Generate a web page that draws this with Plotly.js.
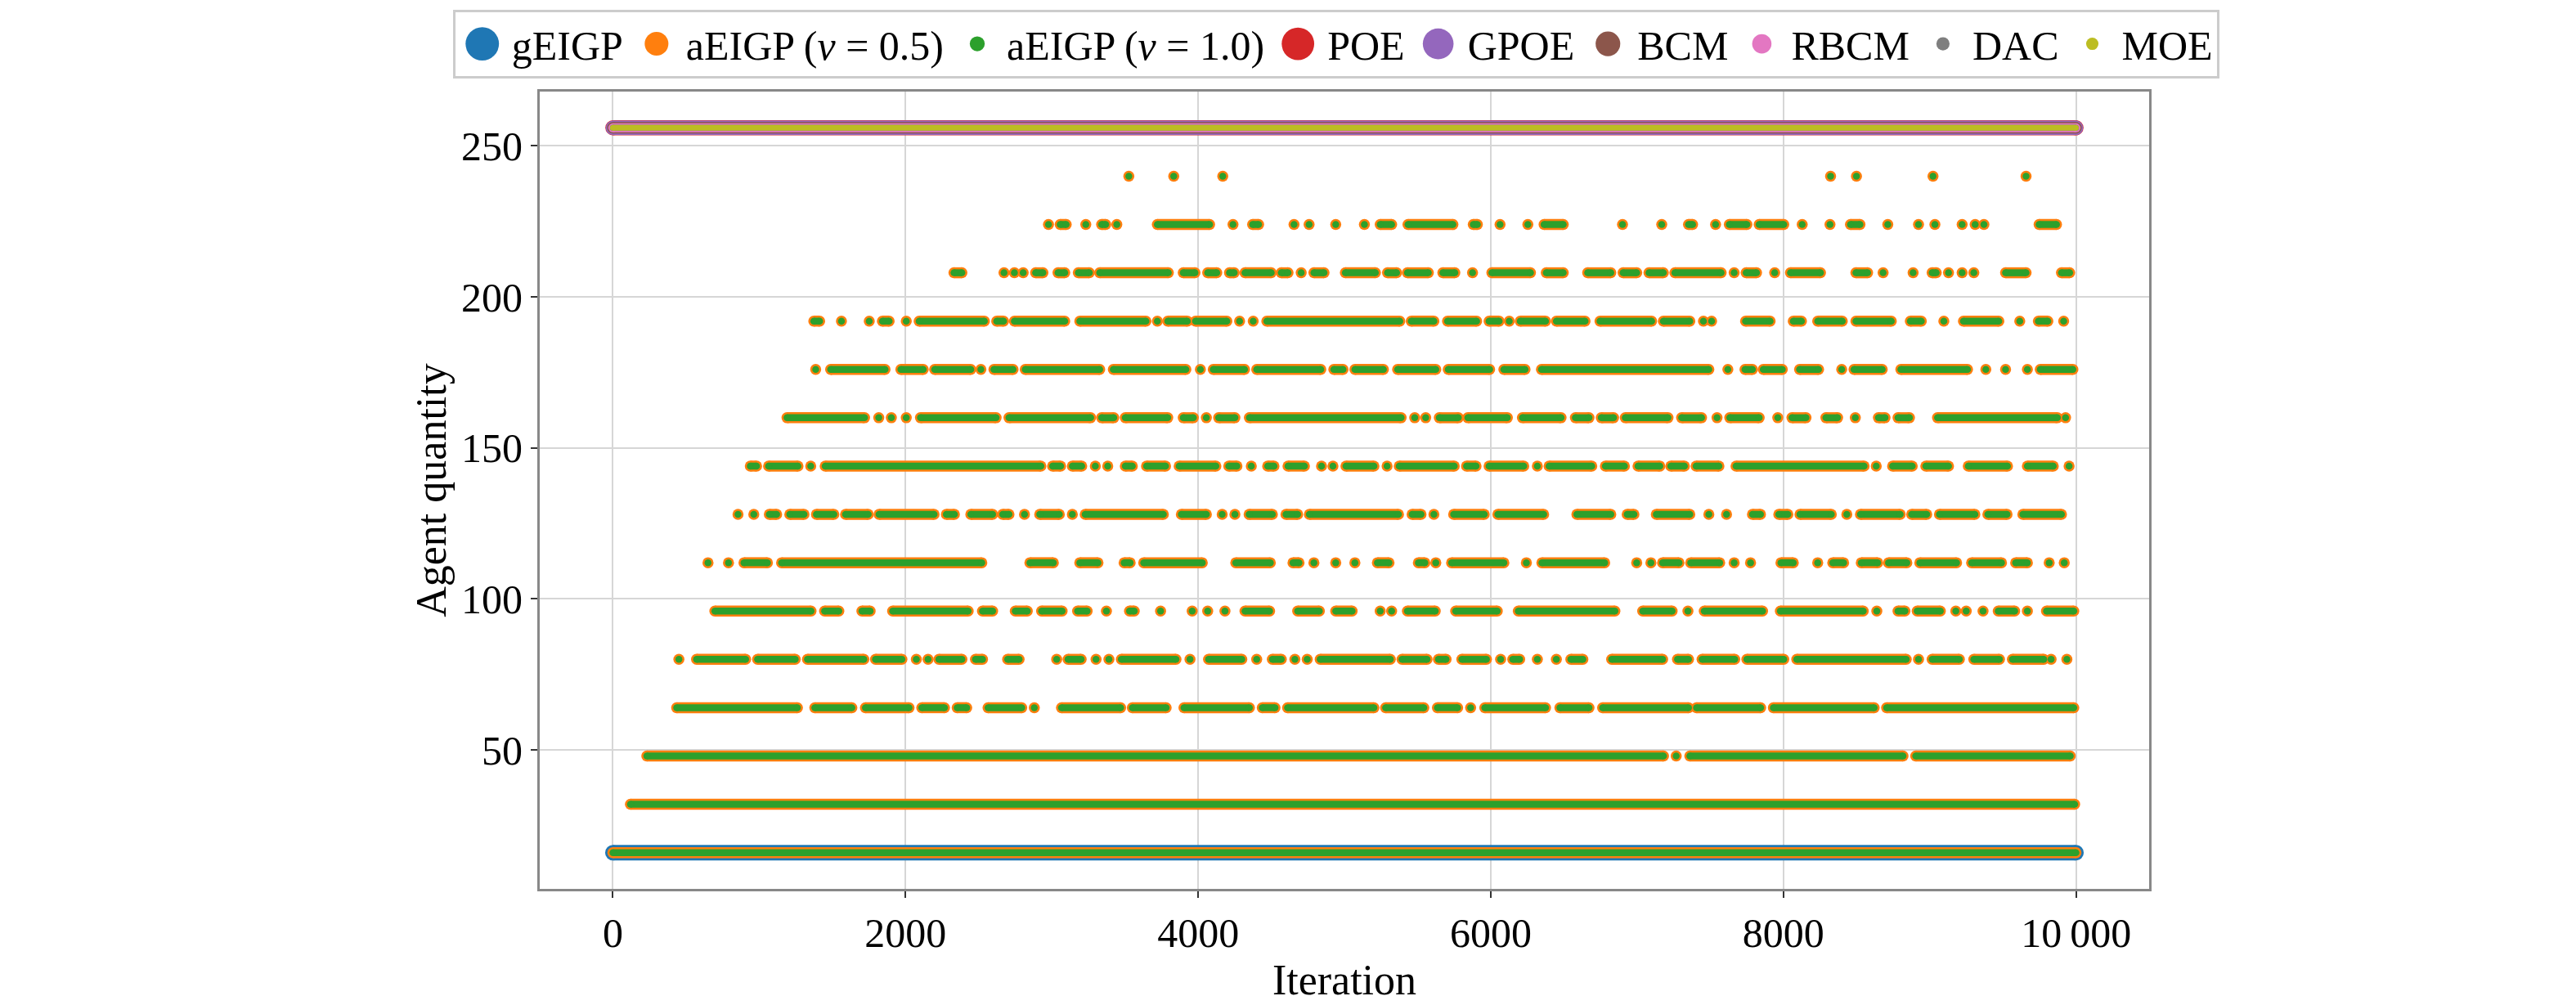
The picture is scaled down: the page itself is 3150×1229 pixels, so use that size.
<!DOCTYPE html>
<html>
<head>
<meta charset="utf-8">
<script src="https://cdn.plot.ly/plotly-3.0.1.min.js"></script>
<style>
  html, body { margin: 0; padding: 0; background: #fff; }
  #chart { width: 3150px; height: 1229px; }
</style>
</head>
<body>
<div id="chart"></div>
<script>
// Iteration ranges [first, last] where aEIGP sits at each agent-quantity level.
// a single dot is [i, i].
const lvl16 = [[0, 9999]];
const lvl32 = [[120, 9990]];
const lvl48 = [[232, 7180], [7267, 7267], [7360, 8817], [8904, 9960]];
const lvl64 = [[436, 1261], [1380, 1633], [1726, 2024], [2111, 2266], [2353, 2418], [2564, 2794],
  [2880, 2880], [3066, 3470], [3550, 3781], [3903, 4350], [4438, 4525], [4611, 5201], [5281, 5542],
  [5635, 5773], [5862, 5862], [5959, 6374], [6472, 6671], [6764, 7351], [7406, 7844], [7931, 8620],
  [8705, 9984]];
const lvl80 = [[451, 451], [572, 907], [989, 1246], [1330, 1715], [1795, 1975], [2074, 2074],
  [2154, 2154], [2228, 2385], [2478, 2526], [2698, 2776], [3033, 3033], [3111, 3200], [3302, 3302],
  [3390, 3390], [3475, 3848], [3944, 3944], [4071, 4298], [4400, 4400], [4507, 4568], [4661, 4661],
  [4745, 4745], [4834, 5313], [5393, 5564], [5642, 5694], [5802, 5970], [6067, 6067], [6150, 6197],
  [6318, 6318], [6448, 6448], [6547, 6629], [6826, 7174], [7276, 7351], [7444, 7667], [7750, 8002],
  [8091, 8839], [8923, 8923], [9016, 9202], [9301, 9476], [9565, 9779], [9829, 9829], [9937, 9937]];
const lvl96 = [[697, 1354], [1447, 1544], [1702, 1758], [1912, 2428], [2526, 2595], [2750, 2832],
  [2930, 3070], [3176, 3241], [3373, 3373], [3531, 3563], [3743, 3743], [3959, 3959], [4065, 4065],
  [4183, 4183], [4320, 4488], [4680, 4828], [4940, 5052], [5244, 5244], [5322, 5322], [5430, 5620],
  [5760, 6044], [6188, 6848], [7038, 7239], [7347, 7347], [7459, 7857], [7979, 8545], [8638, 8638],
  [8783, 8830], [8914, 9072], [9178, 9178], [9249, 9249], [9364, 9364], [9468, 9580], [9667, 9667],
  [9798, 9984]];
const lvl112 = [[650, 650], [790, 790], [896, 1056], [1153, 2521], [2850, 3010], [3191, 3315],
  [3494, 3535], [3628, 4028], [4257, 4493], [4648, 4689], [4791, 4791], [4940, 4940], [5071, 5071],
  [5225, 5304], [5505, 5549], [5624, 5624], [5732, 6089], [6243, 6243], [6349, 6778], [6997, 6997],
  [7094, 7094], [7174, 7286], [7366, 7564], [7663, 7663], [7775, 7775], [7983, 8067], [8234, 8234],
  [8337, 8411], [8532, 8644], [8718, 8843], [8932, 9183], [9286, 9490], [9587, 9667], [9816, 9816],
  [9919, 9919]];
const lvl128 = [[855, 855], [963, 963], [1069, 1119], [1209, 1306], [1391, 1510], [1590, 1745],
  [1819, 2195], [2279, 2334], [2446, 2595], [2664, 2707], [2813, 2813], [2917, 3051], [3140, 3140],
  [3228, 3762], [3885, 4056], [4164, 4164], [4251, 4251], [4348, 4507], [4600, 4680], [4760, 5369],
  [5462, 5523], [5611, 5611], [5746, 5955], [6048, 6361], [6588, 6820], [6932, 6978], [7131, 7360],
  [7490, 7490], [7611, 7611], [7788, 7843], [7968, 8030], [8113, 8327], [8433, 8433], [8526, 8798],
  [8876, 8979], [9066, 9308], [9397, 9528], [9636, 9900]];
const lvl144 = [[939, 982], [1064, 1265], [1352, 1352], [1451, 2925], [3005, 3060], [3140, 3204],
  [3297, 3297], [3382, 3382], [3502, 3550], [3647, 3777], [3870, 4121], [4209, 4265], [4363, 4363],
  [4475, 4518], [4614, 4726], [4843, 4843], [4921, 4921], [5010, 5201], [5291, 5291], [5374, 5750],
  [5834, 5899], [5988, 6225], [6318, 6318], [6398, 6690], [6783, 6913], [7006, 7155], [7230, 7323],
  [7403, 7559], [7676, 8551], [8634, 8634], [8746, 8880], [8973, 9128], [9263, 9531], [9667, 9844],
  [9952, 9952]];
const lvl160 = [[1190, 1720], [1817, 1817], [1903, 1903], [2005, 2005], [2102, 2619], [2707, 3265],
  [3340, 3423], [3502, 3792], [3898, 3967], [4056, 4056], [4140, 4251], [4350, 5387], [5480, 5480],
  [5555, 5555], [5648, 5778], [5843, 6113], [6216, 6480], [6578, 6671], [6755, 6839], [6919, 7211],
  [7304, 7440], [7546, 7546], [7633, 7834], [7961, 7961], [8058, 8154], [8290, 8370], [8491, 8491],
  [8649, 8694], [8783, 8861], [9053, 9872], [9928, 9928]];
const lvl176 = [[1386, 1386], [1488, 1860], [1968, 2121], [2199, 2446], [2515, 2515], [2604, 2735],
  [2818, 3327], [3420, 3916], [4015, 4015], [4103, 4317], [4400, 4838], [4927, 4990], [5071, 5266],
  [5363, 5624], [5709, 5992], [6089, 6234], [6346, 7490], [7620, 7620], [7737, 7788], [7862, 7992],
  [8110, 8240], [8398, 8398], [8482, 8675], [8802, 9258], [9383, 9383], [9518, 9518], [9667, 9667],
  [9755, 9978]];
const lvl192 = [[1373, 1413], [1562, 1562], [1752, 1752], [1842, 1888], [2005, 2005], [2093, 2539],
  [2623, 2670], [2744, 3088], [3191, 3643], [3721, 3721], [3792, 3926], [3982, 4196], [4283, 4283],
  [4376, 4376], [4469, 5378], [5456, 5611], [5704, 5903], [5988, 6057], [6126, 6126], [6201, 6374],
  [6448, 6644], [6746, 7099], [7179, 7360], [7453, 7453], [7509, 7509], [7741, 7909], [8067, 8123],
  [8234, 8402], [8495, 8737], [8867, 8942], [9096, 9096], [9230, 9472], [9615, 9615], [9742, 9807],
  [9915, 9915]];
const lvl208 = [[2331, 2385], [2673, 2673], [2744, 2744], [2804, 2804], [2889, 2939], [3042, 3088],
  [3181, 3256], [3327, 3796], [3898, 3978], [4065, 4127], [4214, 4246], [4320, 4499], [4568, 4614],
  [4704, 4704], [4791, 4860], [5006, 5211], [5294, 5356], [5430, 5573], [5672, 5754], [5875, 5875],
  [6007, 6271], [6379, 6495], [6662, 6820], [6904, 6997], [7081, 7179], [7258, 7574], [7663, 7663],
  [7745, 7816], [7940, 7940], [8048, 8253], [8495, 8575], [8681, 8681], [8886, 8886], [9016, 9044],
  [9128, 9128], [9221, 9221], [9301, 9301], [9518, 9658], [9900, 9956]];
const lvl224 = [[2977, 2977], [3057, 3098], [3232, 3232], [3340, 3368], [3444, 3444], [3721, 4078],
  [4238, 4238], [4372, 4413], [4655, 4655], [4758, 4758], [4940, 4940], [5136, 5136], [5244, 5322],
  [5434, 5741], [5880, 5908], [6063, 6063], [6253, 6253], [6364, 6495], [6900, 6900], [7168, 7168],
  [7351, 7379], [7536, 7536], [7630, 7750], [7834, 8002], [8128, 8128], [8318, 8318], [8458, 8523],
  [8713, 8713], [8923, 8923], [9035, 9035], [9221, 9221], [9310, 9310], [9370, 9370], [9747, 9866]];
const lvl240 = [[3526, 3526], [3833, 3833], [4168, 4168], [8322, 8322], [8499, 8499], [9022, 9022],
  [9658, 9658]];

const aeigpLevels = [16, 32, 48, 64, 80, 96, 112, 128, 144, 160, 176, 192, 208, 224, 240];
const aeigpRuns = [lvl16, lvl32, lvl48, lvl64, lvl80, lvl96, lvl112, lvl128, lvl144, lvl160,
  lvl176, lvl192, lvl208, lvl224, lvl240];

// gEIGP stays at 16 agents, the six baselines at 256, for the whole run.
const geigpLevel = 16;
const baselineLevel = 256;
const fullRun = [[0, 9999]];

const baselineNames = ["POE", "GPOE", "BCM", "RBCM", "DAC", "MOE"];
const baselineColors = ["#d62728", "#9467bd", "#8c564b", "#e377c2", "#7f7f7f", "#bcbd22"];
const baselineSizes = [18.5, 17.5, 14, 11, 7.5, 7];

const xTickVals = [0, 2000, 4000, 6000, 8000, 10000];
const xTickText = ["0", "2000", "4000", "6000", "8000", "10\u2009000"];
const yTickVals = [50, 100, 150, 200, 250];

const FONT = "Liberation Serif, Times New Roman, serif";
const LEGEND_MARKER_SCALE = 2.15;   // legend dots are drawn about twice the plot size

// runs -> line path (null between runs) and endpoint dots
function runsToXY(levels, runsList) {
  const lx = [], ly = [], mx = [], my = [];
  levels.forEach((lv, k) => {
    for (const [a, b] of runsList[k]) {
      lx.push(a, b, null); ly.push(lv, lv, null);
      mx.push(a); my.push(lv);
      if (b !== a) { mx.push(b); my.push(lv); }
    }
  });
  return { lx, ly, mx, my };
}

function bandTraces(name, color, size, xy) {
  return [
    {
      type: "scatter", mode: "lines", x: xy.lx, y: xy.ly,
      line: { color, width: size }, connectgaps: false,
      showlegend: false, hoverinfo: "skip", legendgroup: name,
    },
    {
      type: "scatter", mode: "markers", x: xy.mx, y: xy.my, name,
      marker: { color, size, line: { width: 0 } }, legendgroup: name,
    },
  ];
}

const aeigpXY = runsToXY(aeigpLevels, aeigpRuns);
const geigpXY = runsToXY([geigpLevel], [fullRun]);
const baseXY = runsToXY([baselineLevel], [fullRun]);

const data = [
  ...bandTraces("gEIGP", "#1f77b4", 19, geigpXY),
  ...bandTraces("aEIGP (<i>v</i> = 0.5)", "#ff7f0e", 13.5, aeigpXY),
  ...bandTraces("aEIGP (<i>v</i> = 1.0)", "#2ca02c", 8.5, aeigpXY),
];
baselineNames.forEach((n, i) => {
  data.push(...bandTraces(n, baselineColors[i], baselineSizes[i], baseXY));
});

const axisCommon = {
  ticks: "outside", ticklen: 8, tickwidth: 2, tickcolor: "#333",
  showgrid: true, gridcolor: "#d6d6d6", gridwidth: 2,
  zeroline: false, showline: true, linecolor: "#888", linewidth: 3, mirror: true,
  tickfont: { family: FONT, size: 50, color: "#000" },
};

const layout = {
  width: 3150, height: 1229,
  paper_bgcolor: "#fff", plot_bgcolor: "#fff",
  margin: { l: 660, r: 522, t: 108, b: 142 },
  font: { family: FONT, size: 50, color: "#000" },
  showlegend: true,
  legend: {
    // anchored left of the plot area so it may run wider than the axes
    orientation: "h", x: -0.054, xanchor: "left", y: 1.103, yanchor: "top",
    bordercolor: "#cccccc", borderwidth: 3, bgcolor: "#fff",
    itemwidth: 62,
    font: { family: FONT, size: 50, color: "#000" },
  },
  xaxis: {
    ...axisCommon, range: [-500, 10499],
    tickmode: "array", tickvals: xTickVals, ticktext: xTickText,
    title: { text: "Iteration", font: { family: FONT, size: 52 }, standoff: 12 },
  },
  yaxis: {
    ...axisCommon, range: [4, 268],
    tickmode: "array", tickvals: yTickVals,
    title: { text: "Agent quantity", font: { family: FONT, size: 52 }, standoff: 2 },
  },
};

function circlePath(r) {
  return `M${r},0A${r},${r} 0 1,1 0,-${r}A${r},${r} 0 0,1 ${r},0Z`;
}

Plotly.newPlot("chart", data, layout, { displayModeBar: false, staticPlot: true }).then(gd => {
  // Plotly caps legend symbols at 16px; enlarge them like the original legend
  gd.querySelectorAll(".legend .traces").forEach(item => {
    const d = item.__data__ && item.__data__[0];
    if (!d || !d.trace || !d.trace.marker) return;
    const r = d.trace.marker.size * LEGEND_MARKER_SCALE / 2;
    item.querySelectorAll("path.scatterpts").forEach(p => p.setAttribute("d", circlePath(r)));
  });
});
</script>
</body>
</html>
